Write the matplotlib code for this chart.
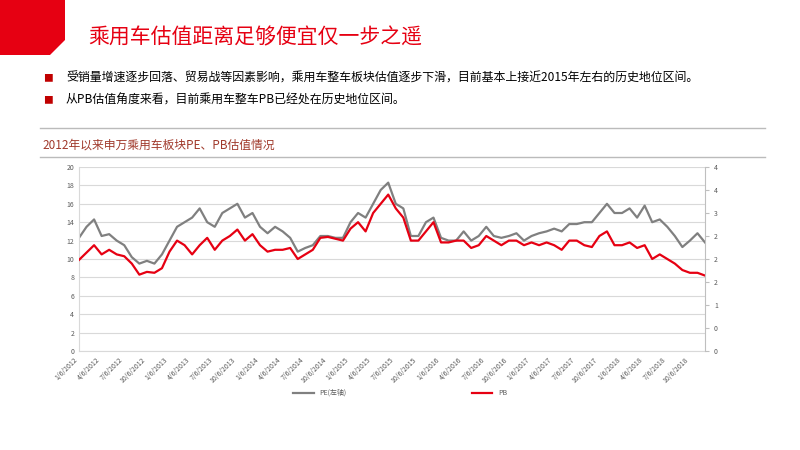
import matplotlib
matplotlib.use("Agg")
import matplotlib.pyplot as plt
from matplotlib.patches import Polygon
from matplotlib.ticker import FuncFormatter
import numpy as np

plt.rcParams['font.family'] = ['Noto Sans CJK SC', 'DejaVu Sans']

pe = [12.3,13.5,14.3,12.5,12.7,12.0,11.5,10.2,9.5,9.8,9.5,10.5,
      12.0,13.5,14.0,14.5,15.5,14.0,13.5,15.0,15.5,16.0,14.5,15.0,
      13.5,12.8,13.5,13.0,12.3,10.8,11.2,11.5,12.5,12.5,12.3,12.3,
      14.0,15.0,14.5,16.0,17.5,18.3,16.0,15.5,12.5,12.5,14.0,14.5,
      12.3,12.0,12.0,13.0,12.0,12.5,13.5,12.5,12.3,12.5,12.8,12.0,
      12.5,12.8,13.0,13.3,13.0,13.8,13.8,14.0,14.0,15.0,16.0,15.0,
      15.0,15.5,14.5,15.8,14.0,14.3,13.5,12.5,11.3,12.0,12.8,11.8]
pb = [1.98,2.14,2.30,2.10,2.20,2.10,2.06,1.90,1.66,1.72,1.70,1.80,
      2.16,2.40,2.30,2.10,2.30,2.46,2.20,2.40,2.50,2.64,2.40,2.54,
      2.30,2.16,2.20,2.20,2.24,2.00,2.10,2.20,2.46,2.48,2.44,2.40,
      2.66,2.80,2.60,3.00,3.20,3.40,3.10,2.90,2.40,2.40,2.60,2.80,
      2.36,2.36,2.40,2.40,2.24,2.30,2.50,2.40,2.30,2.40,2.40,2.30,
      2.36,2.30,2.36,2.30,2.20,2.40,2.40,2.30,2.26,2.50,2.60,2.30,
      2.30,2.36,2.24,2.30,2.00,2.10,2.00,1.90,1.76,1.70,1.70,1.64]
tick_labels = [f"{m}/6/{y}" for y in range(2012, 2019) for m in (1, 4, 7, 10)]

fig = plt.figure(figsize=(8, 4.5), dpi=100)
fig.patch.set_facecolor('white')

fig.patches.append(Polygon([[0, 1], [65/800, 1], [65/800, 1-40/450], [50/800, 1-55/450], [0, 1-55/450]],
                           closed=True, transform=fig.transFigure, facecolor='#e60012', edgecolor='none'))
fig.text(88/800, 1-37/450, "乘用车估值距离足够便宜仅一步之遥", color='#e60012', fontsize=15, va='center')
for yy, txt in [(78, "受销量增速逐步回落、贸易战等因素影响，乘用车整车板块估值逐步下滑，目前基本上接近2015年左右的历史地位区间。"),
                (100, "从PB估值角度来看，目前乘用车整车PB已经处在历史地位区间。")]:
    fig.text(43/800, 1-yy/450, "■", color='#c00000', fontsize=7, va='center')
    fig.text(66/800, 1-yy/450, txt, color='black', fontsize=8.6, va='center')
fig.add_artist(plt.Line2D([40/800, 765/800], [1-128/450]*2, color='#bbbbbb', lw=1, transform=fig.transFigure))
fig.text(42/800, 1-145/450, "2012年以来申万乘用车板块PE、PB估值情况", color='#a0392b', fontsize=8.5, va='center')
fig.add_artist(plt.Line2D([40/800, 765/800], [1-157/450]*2, color='#bbbbbb', lw=1, transform=fig.transFigure))

ax = fig.add_axes([79/800, 1-351/450, 626/800, 184/450])
x = np.arange(len(pe))
ax.plot(x, pe, color='#808080', lw=1.6, label='PE(左轴)')
ax.set_ylim(0, 20)
ax.set_yticks(range(0, 21, 2))
ax.set_xlim(0, len(pe) - 1)
ax.set_xticks(np.arange(0, 84, 3))
ax.set_xticklabels(tick_labels, rotation=45, ha='right', fontsize=5, color='#595959')
ax.tick_params(axis='y', labelsize=5, colors='#595959', length=0)
ax.tick_params(axis='x', length=0)
ax.grid(axis='y', color='#d9d9d9', lw=0.8)
for s in ['top', 'right']:
    ax.spines[s].set_visible(False)
ax.spines['left'].set_color('#d9d9d9')
ax.spines['bottom'].set_color('#d9d9d9')

ax2 = ax.twinx()
ax2.plot(x, pb, color='#e60012', lw=1.6, label='PB')
ax2.set_ylim(0, 4)
ax2.set_yticks(np.arange(0, 4.01, 0.5))
ax2.yaxis.set_major_formatter(FuncFormatter(lambda v, p: f"{v:.0f}"))
ax2.tick_params(axis='y', labelsize=5, colors='#595959', length=3, color='#bfbfbf')
for s in ['top', 'left', 'bottom']:
    ax2.spines[s].set_visible(False)
ax2.spines['right'].set_color('#bfbfbf')

h1, l1 = ax.get_legend_handles_labels()
h2, l2 = ax2.get_legend_handles_labels()
fig.legend(h1 + h2, l1 + l2, loc='center', bbox_to_anchor=(0.5, 1-393/450), ncol=2, frameon=False,
           fontsize=5, columnspacing=18, handlelength=3, labelcolor='#595959')

fig.savefig("out.png", dpi=100, facecolor='white')
